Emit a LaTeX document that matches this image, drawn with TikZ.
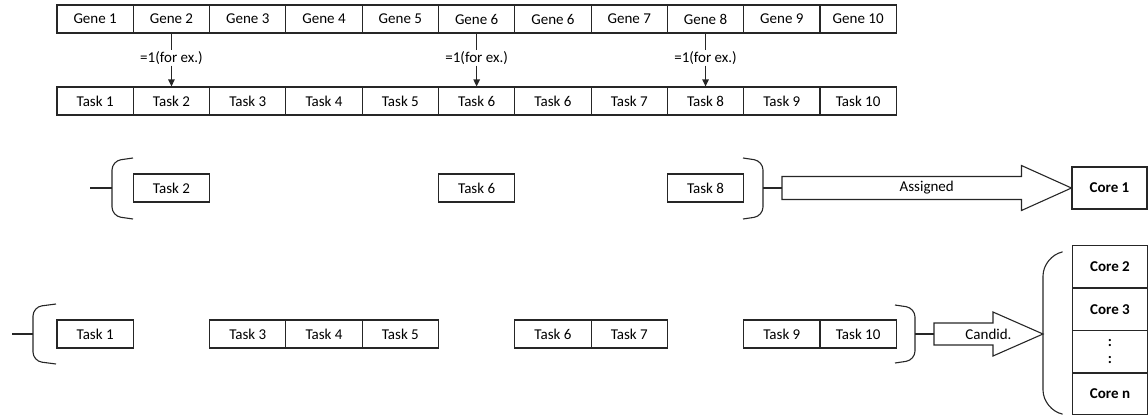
\documentclass[tikz,border=0pt]{standalone}
\usepackage{fontspec}
\setmainfont{Carlito}
\usetikzlibrary{calc,arrows.meta}
\begin{document}
\begin{tikzpicture}[x=1pt,y=-1pt,
  every node/.style={font=\fontsize{15}{19}\selectfont},
  line/.style={draw=black!85,line width=1.1pt},
  cell/.style={line,minimum width=76.3pt,minimum height=28pt,inner sep=0pt,anchor=center},
  core/.style={line,minimum width=75pt,minimum height=42.5pt,inner sep=0pt,font=\fontsize{15}{19}\selectfont\bfseries},
  brk/.style={line,rounded corners=9pt},
  bigbrk/.style={line,rounded corners=20pt},
  lab/.style={inner sep=1pt},
  ptr/.style={line,-{Triangle[width=6.5pt,length=7pt]}},
  fat/.style={line,line join=miter}]
\useasboundingbox (0,0) rectangle (1148,416);
% column centers: 57 + 76.3*(i+0.5)
% gene row
\foreach \i/\t in {0/Gene 1,1/Gene 2,2/Gene 3,3/Gene 4,4/Gene 5,5/Gene 6,6/Gene 6,7/Gene 7,8/Gene 8,9/Gene 9,10/Gene 10}
  \node[cell] (g\i) at ({57+76.3*(\i+0.5)},19) {\t};
% task row
\foreach \i/\t in {0/Task 1,1/Task 2,2/Task 3,3/Task 4,4/Task 5,5/Task 6,6/Task 6,7/Task 7,8/Task 8,9/Task 9,10/Task 10}
  \node[cell] (t\i) at ({57+76.3*(\i+0.5)},101) {\t};
% mapping arrows
\foreach \i in {1,5,8}{
  \node[lab] (l\i) at ({57+76.3*(\i+0.5)},58) {=1(for ex.)};
  \draw[line] (g\i.south) -- (l\i.north);
  \draw[ptr] (l\i.south) -- (t\i.north);
}
% assigned row
\node[cell] (m2) at ({57+76.3*1.5},188) {Task 2};
\node[cell] (m6) at ({57+76.3*5.5},188) {Task 6};
\node[cell] (m8) at ({57+76.3*8.5},188) {Task 8};
% left bracket (assigned)
\coordinate (mlb) at (112,188);
\coordinate (mlt) at (90,188);
\draw[brk] (133,158) -- (112,161) -- (112,216) -- (133,219);
\draw[line] (mlb) -- (mlt);
% right bracket (assigned)
\coordinate (mrb) at (763,188);
\coordinate (aa) at (782,188);
\draw[brk] (743,158) -- (763,161) -- (763,216) -- (743,219);
\draw[line] (mrb) -- (aa);
% core 1
\node[core,minimum height=42pt] (c1) at (1109.5,188) {Core 1};
% assigned fat arrow
\draw[fat] ($(aa)+(0,-11.5)$) -- ($(c1.west)+(-50,-11.5)$) -- ($(c1.west)+(-50,-22.5)$) -- (c1.west)
  -- ($(c1.west)+(-50,22.5)$) -- ($(c1.west)+(-50,11.5)$) -- ($(aa)+(0,11.5)$) -- cycle;
\node (asg) at ($(aa)!0.5!(c1.west)$) {Assigned};
% candidate row
\node[cell] (b1) at ({57+76.3*0.5},334) {Task 1};
\node[cell] (b3) at ({57+76.3*2.5},334) {Task 3};
\node[cell] (b4) at ({57+76.3*3.5},334) {Task 4};
\node[cell] (b5) at ({57+76.3*4.5},334) {Task 5};
\node[cell] (b6) at ({57+76.3*6.5},334) {Task 6};
\node[cell] (b7) at ({57+76.3*7.5},334) {Task 7};
\node[cell] (b9) at ({57+76.3*9.5},334) {Task 9};
\node[cell] (b10) at ({57+76.3*10.5},334) {Task 10};
% left bracket (candidates)
\coordinate (blb) at (33,334);
\coordinate (blt) at (12,334);
\draw[brk] (56,304) -- (33,307) -- (33,361) -- (56,364);
\draw[line] (blb) -- (blt);
% right bracket (candidates)
\coordinate (brb) at (915,334);
\coordinate (ab) at (934,334);
\draw[brk] (895,305) -- (915,308) -- (915,360) -- (895,363);
\draw[line] (brb) -- (ab);
% core column
\node[core] (c2) at (1110,266.5) {Core 2};
\node[core] (c3) at (1110,309.5) {Core 3};
\node[core,align=center,font=\fontsize{15}{19}\selectfont\bfseries] (cd) at (1110,352) {:\\[-2pt]:};
\node[core] (cn) at (1110,393.5) {Core n};
% big bracket
\coordinate (bk) at (1043,334);
\draw[bigbrk] (1062,252) -- (1043,256) -- (1043,410) -- (1062,414);
% candid fat arrow
\draw[fat] ($(ab)+(0,-11)$) -- ($(bk)+(-50,-11)$) -- ($(bk)+(-50,-22)$) -- (bk)
  -- ($(bk)+(-50,22)$) -- ($(bk)+(-50,11)$) -- ($(ab)+(0,11)$) -- cycle;
\node (cnd) at ($(ab)!0.5!(bk)$) {Candid.};
\end{tikzpicture}
\end{document}
